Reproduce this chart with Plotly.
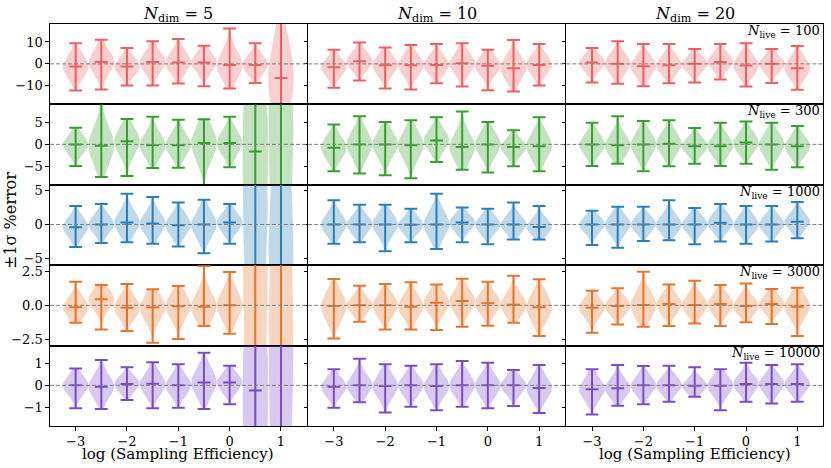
import numpy as np
import plotly.graph_objects as go
from plotly.subplots import make_subplots

# x positions: log10 of the sampling efficiency
log_eff = [-3.0, -2.5, -2.0, -1.5, -1.0, -0.5, 0.0, 0.5, 1.0]
n_live = [100, 300, 1000, 3000, 10000]
n_dim = [5, 10, 20]

# ---- N_dim = 5 ----
d5_n100_mean = [-1.2, 0.9, -1.2, 0.9, 0.6, 0.6, -0.5, -0.5, -6.5]
d5_n100_lo = [-12.1, -11.7, -9.9, -9.9, -9.0, -10.2, -11.2, -8.7, -44.0]
d5_n100_hi = [9.4, 11.0, 7.3, 10.3, 11.3, 8.3, 16.2, 9.4, 31.0]
d5_n300_mean = [0.0, -0.3, 0.7, -0.2, -0.2, 0.3, 0.3, -1.6, 12.0]
d5_n300_lo = [-4.9, -7.4, -7.2, -5.4, -5.3, -10.5, -5.2, -62.0, -80.0]
d5_n300_hi = [3.8, 10.5, 5.8, 6.3, 5.6, 5.7, 6.3, 58.0, 100.0]
d5_n1000_mean = [-0.4, 0.0, 0.3, 0.15, -0.1, 0.0, 0.3, 9.0, -10.0]
d5_n1000_lo = [-3.3, -2.7, -2.6, -2.8, -3.2, -4.2, -2.8, -50.0, -60.0]
d5_n1000_hi = [2.7, 3.0, 4.5, 4.0, 3.2, 3.6, 3.0, 60.0, 50.0]
d5_n3000_mean = [-0.15, 0.44, -0.17, -0.15, -0.07, -0.1, 0.0, 8.0, -8.0]
d5_n3000_lo = [-1.28, -1.77, -1.89, -2.75, -2.48, -1.52, -2.09, -40.0, -50.0]
d5_n3000_hi = [1.74, 1.49, 1.57, 1.18, 1.42, 2.89, 2.45, 50.0, 40.0]
d5_n10000_mean = [0.0, -0.06, 0.06, 0.07, 0.01, 0.13, 0.13, -0.23, 4.0]
d5_n10000_lo = [-1.03, -1.06, -0.66, -1.03, -1.0, -1.06, -0.85, -12.0, -20.0]
d5_n10000_hi = [0.76, 1.13, 0.81, 1.03, 0.94, 1.46, 0.88, 12.0, 25.0]

# ---- N_dim = 10 ----
d10_n100_mean = [-1.5, 1.2, -0.6, -0.6, -0.5, 0.3, -0.9, -2.0, -0.5]
d10_n100_lo = [-10.9, -7.6, -11.2, -11.7, -8.8, -10.3, -12.0, -12.6, -9.9]
d10_n100_hi = [6.4, 9.8, 7.5, 8.6, 9.1, 9.4, 6.4, 10.9, 9.1]
d10_n300_mean = [-0.75, 0.0, 0.0, -0.2, 0.9, -0.6, 0.0, -0.6, -0.4]
d10_n300_lo = [-6.1, -6.6, -7.0, -7.7, -4.0, -5.8, -6.4, -5.0, -6.1]
d10_n300_hi = [4.5, 6.4, 5.1, 5.5, 6.2, 7.5, 5.1, 3.2, 6.2]
d10_n1000_mean = [0.0, 0.0, 0.0, -0.05, 0.0, 0.3, 0.0, 0.0, -0.35]
d10_n1000_lo = [-2.8, -2.6, -3.9, -2.6, -3.6, -2.6, -2.9, -2.2, -2.2]
d10_n1000_hi = [3.55, 2.9, 2.9, 2.3, 4.5, 2.5, 2.3, 3.2, 2.7]
d10_n3000_mean = [-0.05, 0.0, 0.0, -0.1, 0.19, 0.32, 0.15, 0.05, -0.15]
d10_n3000_lo = [-2.43, -1.2, -1.77, -1.77, -1.82, -1.57, -1.5, -1.28, -2.26]
d10_n3000_hi = [1.93, 1.44, 1.57, 1.69, 1.54, 1.96, 1.74, 2.18, 1.91]
d10_n10000_mean = [-0.06, 0.01, -0.03, 0.01, -0.03, 0.0, 0.0, 0.0, -0.12]
d10_n10000_lo = [-1.0, -0.76, -1.21, -0.96, -1.12, -0.96, -1.03, -0.93, -1.24]
d10_n10000_hi = [0.72, 1.19, 0.94, 0.88, 0.95, 1.09, 1.01, 0.69, 0.91]

# ---- N_dim = 20 ----
d20_n100_mean = [0.6, 0.0, -1.1, -0.6, 0.0, 0.9, -0.7, 0.0, -2.0]
d20_n100_lo = [-8.5, -9.1, -10.2, -8.8, -8.5, -7.1, -10.3, -8.7, -11.8]
d20_n100_hi = [7.3, 10.3, 9.1, 9.1, 6.8, 9.1, 9.4, 6.8, 8.2]
d20_n300_mean = [0.0, -0.2, 0.0, 0.15, -0.4, -0.4, 0.4, 0.0, -0.4]
d20_n300_lo = [-4.9, -4.4, -6.1, -5.0, -4.4, -4.9, -4.4, -5.8, -5.2]
d20_n300_hi = [4.9, 6.4, 5.3, 5.5, 3.7, 4.9, 5.2, 4.9, 4.2]
d20_n1000_mean = [0.0, 0.0, 0.0, 0.0, 0.0, 0.25, 0.0, 0.0, 0.4]
d20_n1000_lo = [-3.0, -3.4, -2.4, -2.3, -2.9, -2.5, -2.8, -2.5, -2.0]
d20_n1000_hi = [2.0, 2.6, 2.6, 3.55, 2.4, 3.0, 2.7, 2.7, 3.3]
d20_n3000_mean = [-0.17, -0.05, 0.02, 0.1, 0.02, 0.1, -0.05, 0.1, -0.1]
d20_n3000_lo = [-2.01, -1.4, -1.57, -1.52, -1.33, -1.52, -1.25, -1.38, -2.26]
d20_n3000_hi = [1.07, 1.25, 2.47, 1.54, 1.81, 1.49, 1.61, 1.2, 1.3]
d20_n10000_mean = [-0.17, -0.13, 0.0, 0.0, -0.02, -0.02, 0.06, 0.06, 0.06]
d20_n10000_lo = [-1.3, -0.91, -0.85, -0.73, -0.51, -1.11, -0.73, -0.81, -0.73]
d20_n10000_hi = [0.72, 0.91, 0.87, 0.88, 0.81, 0.72, 1.01, 0.91, 0.95]

panels = {
    (5, 100): (d5_n100_mean, d5_n100_lo, d5_n100_hi),
    (5, 300): (d5_n300_mean, d5_n300_lo, d5_n300_hi),
    (5, 1000): (d5_n1000_mean, d5_n1000_lo, d5_n1000_hi),
    (5, 3000): (d5_n3000_mean, d5_n3000_lo, d5_n3000_hi),
    (5, 10000): (d5_n10000_mean, d5_n10000_lo, d5_n10000_hi),
    (10, 100): (d10_n100_mean, d10_n100_lo, d10_n100_hi),
    (10, 300): (d10_n300_mean, d10_n300_lo, d10_n300_hi),
    (10, 1000): (d10_n1000_mean, d10_n1000_lo, d10_n1000_hi),
    (10, 3000): (d10_n3000_mean, d10_n3000_lo, d10_n3000_hi),
    (10, 10000): (d10_n10000_mean, d10_n10000_lo, d10_n10000_hi),
    (20, 100): (d20_n100_mean, d20_n100_lo, d20_n100_hi),
    (20, 300): (d20_n300_mean, d20_n300_lo, d20_n300_hi),
    (20, 1000): (d20_n1000_mean, d20_n1000_lo, d20_n1000_hi),
    (20, 3000): (d20_n3000_mean, d20_n3000_lo, d20_n3000_hi),
    (20, 10000): (d20_n10000_mean, d20_n10000_lo, d20_n10000_hi),
}

# styles
colours = ["#ef5f5f", "#389e30", "#2a7fba", "#e8732a", "#7a4bc9"]
fills = ["rgba(239,95,95,0.3)", "rgba(56,158,48,0.3)", "rgba(42,127,186,0.3)",
         "rgba(232,115,42,0.3)", "rgba(122,75,201,0.3)"]
y_ranges = [[-18.5, 18.2], [-9.2, 9.1], [-5.95, 5.8], [-2.96, 2.95], [-1.82, 1.78]]
y_ticks = [[-10, 0, 10], [-5, 0, 5], [-5, 0, 5], [-2.5, 0, 2.5], [-1, 0, 1]]
y_ticktext = [None, None, None, ["\u22122.5", "0.0", "2.5"], None]
half_w = 0.25   # violin half width at its peak
cap = 0.125     # half width of caps and mean tick
FONT = "DejaVu Serif, Liberation Serif, serif"

fig = make_subplots(rows=5, cols=3, shared_xaxes=True, shared_yaxes=True,
                    horizontal_spacing=0.002, vertical_spacing=0.0)

for r, nl in enumerate(n_live, start=1):
    col = colours[r - 1]
    for c, nd in enumerate(n_dim, start=1):
        mean, lo, hi = panels[(nd, nl)]
        # violin bodies
        for p, m, a, b in zip(log_eff, mean, lo, hi):
            s = (b - a) / 4.2
            yy = np.linspace(a, b, 120)
            ww = half_w * np.exp(-0.5 * ((yy - m) / s) ** 2)
            fig.add_trace(go.Scatter(
                x=np.concatenate([p + ww, (p - ww)[::-1]]),
                y=np.concatenate([yy, yy[::-1]]),
                mode="lines", fill="toself", fillcolor=fills[r - 1],
                line=dict(width=0), hoverinfo="skip", showlegend=False),
                row=r, col=c)
        # extrema bars, caps and mean ticks
        bx, by = [], []
        for p, m, a, b in zip(log_eff, mean, lo, hi):
            bx += [p, p, None, p - cap, p + cap, None, p - cap, p + cap, None,
                   p - cap, p + cap, None]
            by += [a, b, None, a, a, None, b, b, None, m, m, None]
        fig.add_trace(go.Scatter(x=bx, y=by, mode="lines",
                                 line=dict(color=col, width=2),
                                 hoverinfo="skip", showlegend=False),
                      row=r, col=c)
        fig.add_hline(y=0, line=dict(color="grey", width=1, dash="4px,2px"),
                      row=r, col=c)

axis_style = dict(showline=True, mirror=True, linecolor="black", linewidth=1.2,
                  showgrid=False, zeroline=False, ticks="outside", ticklen=3.5,
                  tickwidth=1, tickcolor="black",
                  tickfont=dict(family=FONT, size=13, color="black"))
fig.update_xaxes(**axis_style)
fig.update_yaxes(**axis_style)
fig.update_xaxes(range=[-3.5, 1.5], tickvals=[-3, -2, -1, 0, 1])
for r in range(1, 5):
    fig.update_xaxes(ticks="", row=r)
for r in range(1, 6):
    kw = dict(range=y_ranges[r - 1], tickvals=y_ticks[r - 1])
    if y_ticktext[r - 1]:
        kw["ticktext"] = y_ticktext[r - 1]
    fig.update_yaxes(row=r, **kw)


def dom(r, c):
    i = (r - 1) * 3 + c
    s = "" if i == 1 else str(i)
    return "x" + s + " domain", "y" + s + " domain"


ann = []
for c, nd in enumerate(n_dim, start=1):
    xr, yr = dom(1, c)
    ann.append(dict(text="<i>N</i><sub>dim</sub> = %d" % nd, xref=xr, yref=yr,
                    x=0.5, y=1, xanchor="center", yanchor="bottom", yshift=-3,
                    showarrow=False, font=dict(family=FONT, size=16, color="black")))
for r, nl in enumerate(n_live, start=1):
    xr, yr = dom(r, 3)
    ann.append(dict(text="<i>N</i><sub>live</sub> = %d" % nl, xref=xr, yref=yr,
                    x=0.995, y=1, xanchor="right", yanchor="top", yshift=3,
                    showarrow=False, font=dict(family=FONT, size=13, color="black")))
for c in (1, 3):
    xr, yr = dom(5, c)
    ann.append(dict(text="log (Sampling Efficiency)", xref=xr, yref=yr,
                    x=0.5, y=0, xanchor="center", yanchor="top", yshift=-17,
                    showarrow=False, font=dict(family=FONT, size=15, color="black")))
ann.append(dict(text="\u00b11\u03c3 %error", xref="paper", yref="paper",
                x=0, y=0.51, xshift=-39, textangle=-90, xanchor="center",
                yanchor="middle", showarrow=False,
                font=dict(family=FONT, size=16, color="black")))

fig.update_layout(width=831, height=468, margin=dict(l=50, r=8, t=24, b=42),
                  plot_bgcolor="white", paper_bgcolor="white",
                  font=dict(family=FONT, color="black"),
                  annotations=ann, showlegend=False)

fig.write_html("out.html", config={"displayModeBar": False},
               post_script="document.body.style.margin='0';")
